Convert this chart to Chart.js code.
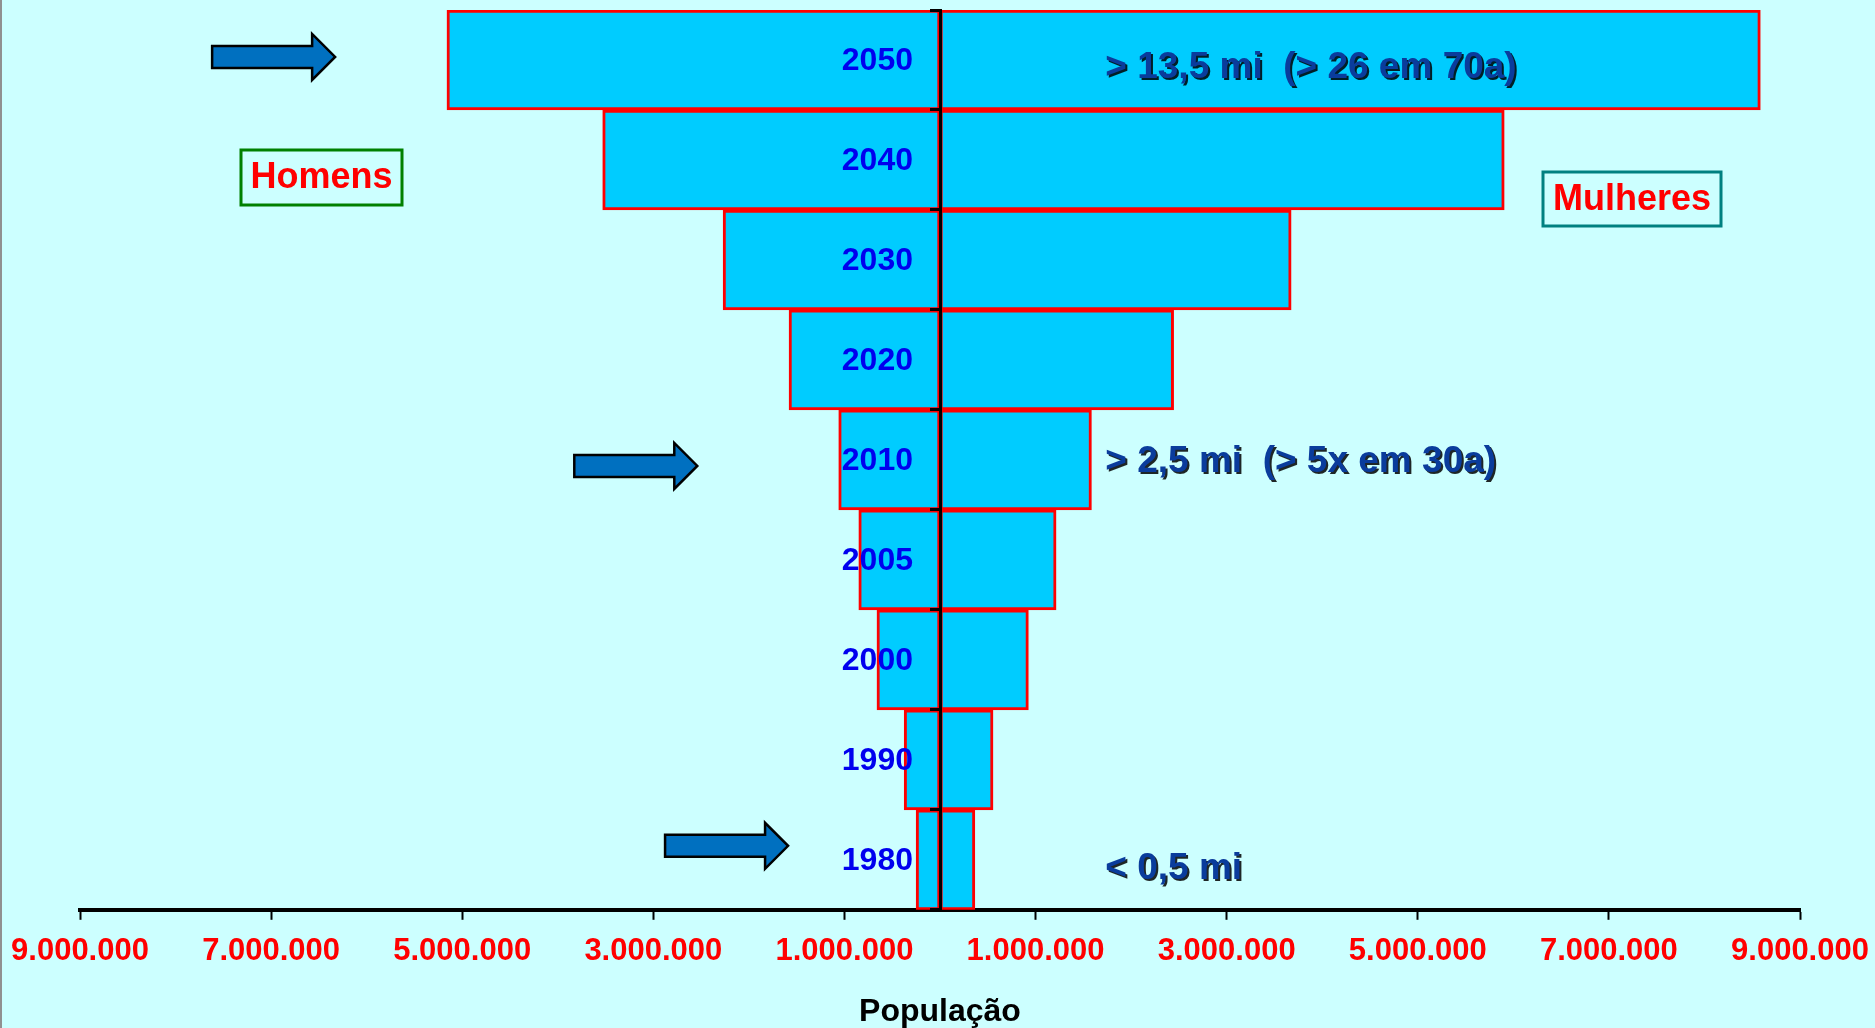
<!DOCTYPE html>
<html>
<head>
<meta charset="utf-8">
<title>População</title>
<script src="https://cdn.jsdelivr.net/npm/chart.js@4.4.1/dist/chart.umd.min.js"></script>
<style>
    html, body { margin: 0; padding: 0; background: #CCFFFF; }
    canvas { display: block; }
</style>
</head>
<body>
<canvas id="piramide" width="1875" height="1028"></canvas>
<script>
// dados (de cima para baixo)
var anos = ['2050', '2040', '2030', '2020', '2010', '2005', '2000', '1990', '1980'];
var homens = [5160000, 3530000, 2270000, 1580000, 1060000, 850000, 660000, 375000, 250000];
var mulheres = [8585000, 5905000, 3675000, 2445000, 1585000, 1215000, 925000, 555000, 365000];
var eixoMin = -9000000;
var eixoMax = 9000000;
var passo = 2000000;

var fonte = "'Liberation Sans', Arial, sans-serif";

function formata(n) {
    return String(Math.abs(n)).replace(/\B(?=(\d{3})+(?!\d))/g, '.');
}

// fundo ciano + linha cinza na esquerda
var fundo = {
    id: 'fundo',
    beforeDraw: function(chart) {
        var ctx = chart.ctx;
        ctx.save();
        ctx.fillStyle = '#CCFFFF';
        ctx.fillRect(0, 0, chart.width, chart.height);
        ctx.fillStyle = '#909090';
        ctx.fillRect(0, 0, 2, chart.height);
        ctx.restore();
    }
};

// rotulos dos anos, por cima das barras, a esquerda do eixo central
var rotulosAnos = {
    id: 'rotulosAnos',
    afterDatasetsDraw: function(chart) {
        var ctx = chart.ctx;
        var y = chart.scales.y;
        var x0 = chart.scales.x.getPixelForValue(0) - 27;
        ctx.save();
        ctx.font = 'bold 32px ' + fonte;
        ctx.fillStyle = '#0000EE';
        ctx.textAlign = 'right';
        ctx.textBaseline = 'middle';
        anos.forEach(function(a, i) {
            ctx.fillText(a, x0, y.getPixelForValue(i) + 1);
        });
        ctx.restore();
    }
};

function seta(ctx, ponta, cy) {
    var comp = 123, cab = 23, h1 = 11, h2 = 23;
    var x0 = ponta - comp;
    ctx.beginPath();
    ctx.moveTo(x0, cy - h1);
    ctx.lineTo(ponta - cab, cy - h1);
    ctx.lineTo(ponta - cab, cy - h2);
    ctx.lineTo(ponta, cy);
    ctx.lineTo(ponta - cab, cy + h2);
    ctx.lineTo(ponta - cab, cy + h1);
    ctx.lineTo(x0, cy + h1);
    ctx.closePath();
    ctx.fillStyle = '#0070C0';
    ctx.fill();
    ctx.lineWidth = 2.5;
    ctx.strokeStyle = '#000';
    ctx.stroke();
}

function caixa(ctx, x, y, w, h, cor, texto) {
    ctx.lineWidth = 3;
    ctx.strokeStyle = cor;
    ctx.strokeRect(x, y, w, h);
    ctx.fillStyle = '#FF0000';
    ctx.font = 'bold 36px ' + fonte;
    ctx.textAlign = 'center';
    ctx.textBaseline = 'middle';
    ctx.fillText(texto, x + w / 2, y + h / 2 + 1);
}

var anotacoes = {
    id: 'anotacoes',
    afterDraw: function(chart) {
        var ctx = chart.ctx;
        var x = chart.scales.x, y = chart.scales.y;
        ctx.save();

        // setas
        [['2050', -6330000, -3], ['2010', -2540000, 6], ['1980', -1590000, -14]].forEach(function(s) {
            seta(ctx, x.getPixelForValue(s[1]), y.getPixelForValue(anos.indexOf(s[0])) + s[2]);
        });

        // textos
        ctx.font = 'bold 37px ' + fonte;
        ctx.textAlign = 'left';
        ctx.textBaseline = 'middle';
        ctx.shadowColor = 'rgba(0,0,0,0.85)';
        ctx.shadowOffsetX = 2;
        ctx.shadowOffsetY = 2;
        ctx.fillStyle = '#0A3C9C';
        var tx = x.getPixelForValue(1730000);
        [['2050', '> 13,5 mi  (> 26 em 70a)', 8], ['2010', '> 2,5 mi  (> 5x em 30a)', 2], ['1980', '< 0,5 mi', 9]].forEach(function(t) {
            ctx.fillText(t[1], tx, y.getPixelForValue(anos.indexOf(t[0])) + t[2]);
        });
        ctx.shadowColor = 'transparent';

        caixa(ctx, 241, 150, 161, 55, '#008000', 'Homens');
        caixa(ctx, 1543, 172, 178, 54, '#008080', 'Mulheres');
        ctx.restore();
    }
};

var ctx = document.getElementById('piramide').getContext('2d');
new Chart(ctx, {
    type: 'bar',
    data: {
        labels: anos,
        datasets: [{
            label: 'Homens',
            data: homens.map(function(v) { return -v; }),
            backgroundColor: '#00CCFF',
            borderColor: '#FF0000',
            borderWidth: 3,
            borderSkipped: false,
            barPercentage: 1,
            categoryPercentage: 1
        }, {
            label: 'Mulheres',
            data: mulheres,
            backgroundColor: '#00CCFF',
            borderColor: '#FF0000',
            borderWidth: 3,
            borderSkipped: false,
            barPercentage: 1,
            categoryPercentage: 1
        }]
    },
    options: {
        indexAxis: 'y',
        responsive: false,
        animation: false,
        layout: { padding: { top: 10, left: 0, right: 0, bottom: 0 } },
        plugins: {
            legend: { display: false },
            tooltip: { enabled: false }
        },
        scales: {
            x: {
                stacked: true,
                min: eixoMin,
                max: eixoMax,
                afterFit: function(s) {
                    s.paddingLeft = 80;
                    s.paddingRight = 75;
                },
                border: { color: '#000', width: 4 },
                grid: { drawOnChartArea: false, tickLength: 10, tickColor: '#000', tickWidth: 2 },
                ticks: {
                    stepSize: passo,
                    autoSkip: false,
                    maxRotation: 0,
                    padding: 13,
                    color: '#FF0000',
                    font: { family: fonte, size: 31, weight: 'bold' },
                    callback: function(v) { return formata(v); }
                },
                title: {
                    display: true,
                    text: 'População',
                    color: '#000',
                    font: { family: fonte, size: 32, weight: 'bold', lineHeight: 1 },
                    padding: { top: 13, bottom: 0 }
                }
            },
            y: {
                stacked: true,
                position: { x: 0 },
                border: { color: '#000', width: 3, z: 1 },
                grid: { drawOnChartArea: false, offset: true, tickLength: 9, tickWidth: 3, tickColor: '#000', z: 1 },
                ticks: { display: false }
            }
        }
    },
    plugins: [fundo, rotulosAnos, anotacoes]
});
</script>
</body>
</html>
